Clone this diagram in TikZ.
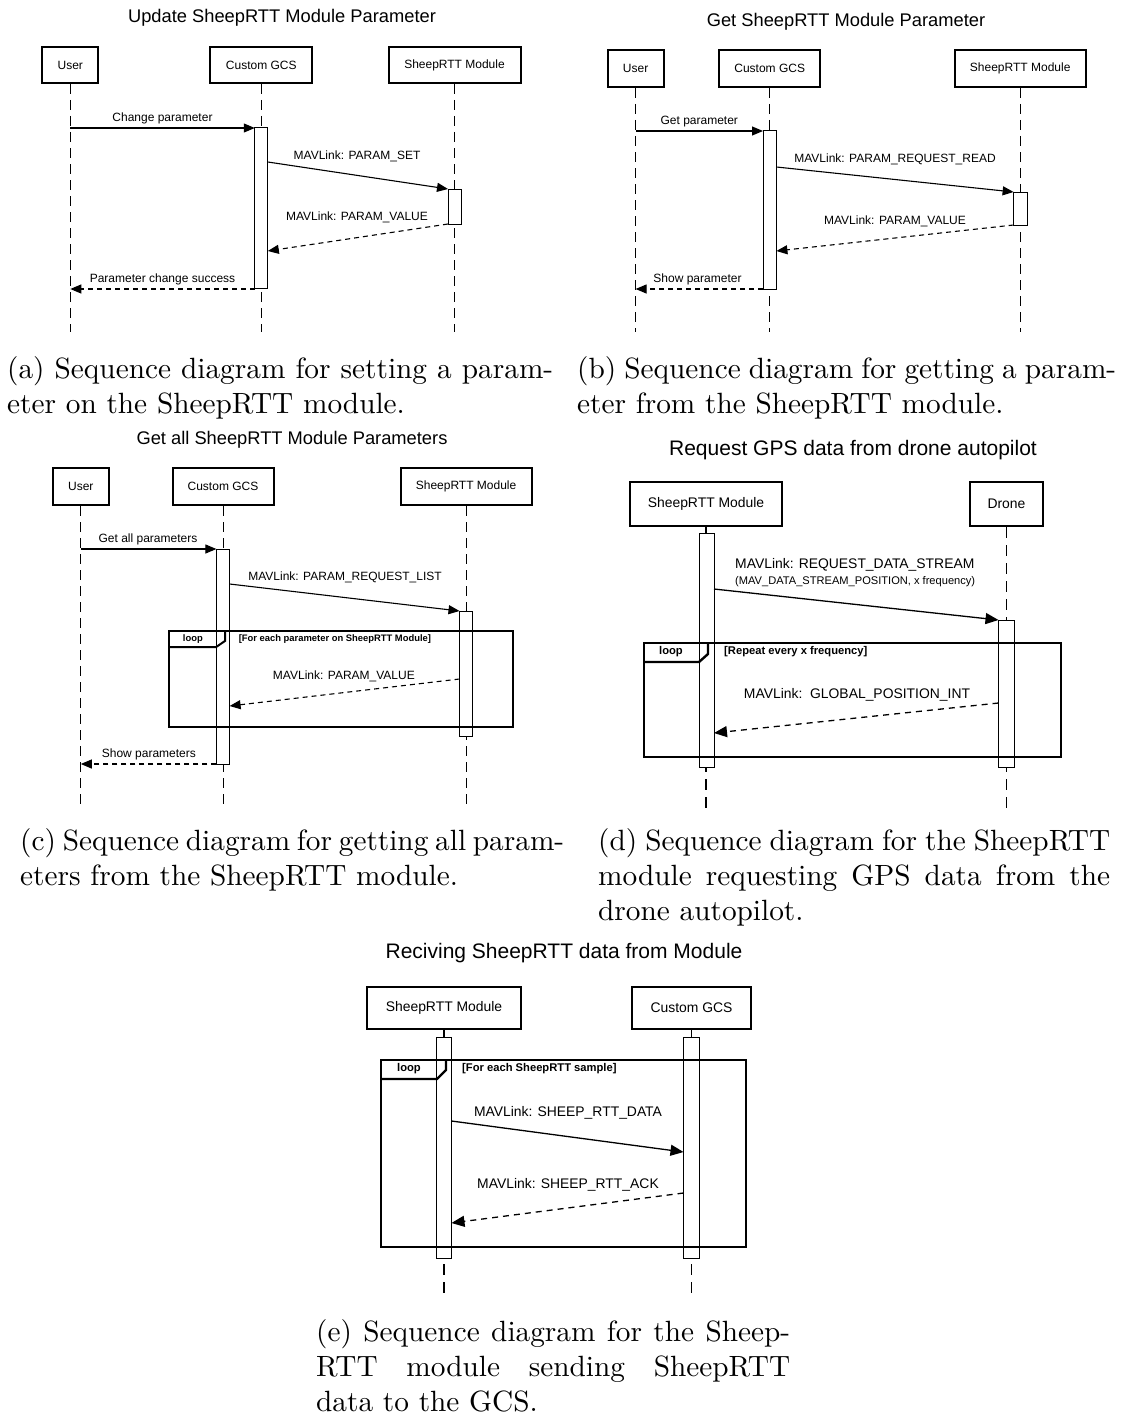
\documentclass[tikz,border=0pt]{standalone}
\usepackage{fontspec}
\newfontfamily\arialf{Liberation Sans}
\newfontfamily\capfont{lmroman10-regular.otf}
\usetikzlibrary{arrows.meta}
\newcommand\fTa{\arialf\fontsize{18.3}{22}\selectfont}
\newcommand\fLa{\arialf\fontsize{12}{14}\selectfont}
\newcommand\fBa{\arialf\bfseries\fontsize{9.4}{11}\selectfont}
\newcommand\fTd{\arialf\fontsize{21}{25}\selectfont}
\newcommand\fLd{\arialf\fontsize{13.9}{16}\selectfont}
\newcommand\fSd{\arialf\fontsize{11.1}{13}\selectfont}
\newcommand\fBd{\arialf\bfseries\fontsize{11.2}{13}\selectfont}
\newcommand\capbox[2]{\parbox[t]{#1}{\capfont\fontsize{29.3}{35}\selectfont\tolerance=9999\hyphenpenalty=10000 #2}}
\tikzset{
  actA/.style={draw, line width=2pt, inner sep=0pt, font=\fLa},
  actD/.style={draw, line width=2.4pt, inner sep=0pt, font=\fLd},
  lifeA/.style={line width=1pt, dash pattern=on 10pt off 6pt},
  lifeD/.style={line width=1.2pt, dash pattern=on 11pt off 7pt},
  actv/.style={draw, fill=white, line width=1pt},
  msgA/.style={line width=1.1pt, -{Triangle[length=11pt,width=9pt]}},
  retA/.style={msgA, dash pattern=on 5pt off 4pt},
  msgD/.style={line width=1.3pt, -{Triangle[length=13pt,width=11pt]}},
  retD/.style={msgD, dash pattern=on 6pt off 5pt},
  frameA/.style={line width=2pt},
  frameD/.style={line width=2.4pt},
  lbl/.style={inner sep=0pt},
  capnode/.style={inner sep=0pt, anchor=base west},
}
\begin{document}
\begin{tikzpicture}[x=1pt, y=-1pt]
\useasboundingbox (0,0) rectangle (1121,1418);
\fill[white] (0,0) rectangle (1121,1418);

% ================= (a) =================
\node[lbl, font=\fTa] (ta) at (282,18) {Update SheepRTT Module Parameter};
\node[actA, minimum width=56pt, minimum height=36pt] (ua) at (70.3,65) {User};
\node[actA, minimum width=102pt, minimum height=36pt] (ga) at (261.3,65) {Custom GCS};
\node[actA, minimum width=132pt, minimum height=36pt] (ma) at (454.5,65) {SheepRTT Module};
\coordinate (uaE) at (70.3,332);
\coordinate (gaE) at (261.3,332);
\coordinate (maE) at (454.5,332);
\draw[lifeA] (ua.south) -- (uaE);
\draw[lifeA] (ga.south) -- (gaE);
\draw[lifeA] (ma.south) -- (maE);
\draw[actv] (254.8,128) rectangle (267.8,288);
\draw[actv] (448,189) rectangle (461,224);
\coordinate (a1s) at (70.3,128); \coordinate (a1e) at (254.8,128);
\coordinate (a2s) at (267.8,162); \coordinate (a2e) at (448,189);
\coordinate (a3s) at (448,224); \coordinate (a3e) at (267.8,251);
\coordinate (a4s) at (254.8,289); \coordinate (a4e) at (70.3,289);
\draw[msgA] (a1s) -- (a1e);
\draw[msgA] (a2s) -- (a2e);
\draw[retA] (a3s) -- (a3e);
\draw[retA] (a4s) -- (a4e);
\node[lbl, font=\fLa] (la1) at (162.5,118) {Change parameter};
\node[lbl, font=\fLa] (la2) at (357,156) {MAVLink: PARAM\_SET};
\node[lbl, font=\fLa] (la3) at (357,217) {MAVLink: PARAM\_VALUE};
\node[lbl, font=\fLa] (la4) at (162.5,279) {Parameter change success};

% ================= (b) =================
\node[lbl, font=\fTa] (tb) at (846,22) {Get SheepRTT Module Parameter};
\node[actA, minimum width=56pt, minimum height=37pt] (ub) at (635.6,68.5) {User};
\node[actA, minimum width=101pt, minimum height=37pt] (gb) at (769.7,68.5) {Custom GCS};
\node[actA, minimum width=131pt, minimum height=37pt] (mb) at (1020.2,68.5) {SheepRTT Module};
\coordinate (ubE) at (635.6,332);
\coordinate (gbE) at (769.7,332);
\coordinate (mbE) at (1020.2,332);
\draw[lifeA] (ub.south) -- (ubE);
\draw[lifeA] (gb.south) -- (gbE);
\draw[lifeA] (mb.south) -- (mbE);
\draw[actv] (763,131) rectangle (776.4,289);
\draw[actv] (1013.6,192) rectangle (1027,225);
\coordinate (b1s) at (635.6,131); \coordinate (b1e) at (763,131);
\coordinate (b2s) at (776.4,167); \coordinate (b2e) at (1013.6,192);
\coordinate (b3s) at (1013.6,225); \coordinate (b3e) at (776.4,251);
\coordinate (b4s) at (763,289); \coordinate (b4e) at (635.6,289);
\draw[msgA] (b1s) -- (b1e);
\draw[msgA] (b2s) -- (b2e);
\draw[retA] (b3s) -- (b3e);
\draw[retA] (b4s) -- (b4e);
\node[lbl, font=\fLa] (lb1) at (699.3,122) {Get parameter};
\node[lbl, font=\fLa] (lb2) at (895,159) {MAVLink: PARAM\_REQUEST\_READ};
\node[lbl, font=\fLa] (lb3) at (895,221) {MAVLink: PARAM\_VALUE};
\node[lbl, font=\fLa] (lb4) at (697.5,279) {Show parameter};

% ================= (c) =================
\node[lbl, font=\fTa] (tc) at (292,440) {Get all SheepRTT Module Parameters};
\node[actA, minimum width=56pt, minimum height=37pt] (uc) at (80.8,486.5) {User};
\node[actA, minimum width=101pt, minimum height=37pt] (gc) at (223,486.5) {Custom GCS};
\node[actA, minimum width=131pt, minimum height=37pt] (mc) at (466.1,486.5) {SheepRTT Module};
\coordinate (ucE) at (80.8,810);
\coordinate (gcE) at (223,810);
\coordinate (mcE) at (466.1,810);
\draw[lifeA] (uc.south) -- (ucE);
\draw[lifeA] (gc.south) -- (gcE);
\draw[lifeA] (mc.south) -- (mcE);
\draw[actv] (216.4,549) rectangle (229.6,764);
\draw[actv] (459.5,611) rectangle (472.7,736);
\draw[frameA] (168.9,631) rectangle (513.2,727);
\draw[frameA] (168.9,647) -- (216.1,647) -- (225,641) -- (225,631);
\node[lbl, font=\fBa] (lpc) at (192.9,639) {loop};
\node[lbl, font=\fBa, anchor=west] (cdc) at (238.6,639) {[For each parameter on SheepRTT Module]};
\coordinate (c1s) at (80.8,549); \coordinate (c1e) at (216.4,549);
\coordinate (c2s) at (229.6,584); \coordinate (c2e) at (459.5,611);
\coordinate (c3s) at (459.5,679); \coordinate (c3e) at (229.6,706);
\coordinate (c4s) at (216.4,764); \coordinate (c4e) at (80.8,764);
\draw[msgA] (c1s) -- (c1e);
\draw[msgA] (c2s) -- (c2e);
\draw[retA] (c3s) -- (c3e);
\draw[retA] (c4s) -- (c4e);
\node[lbl, font=\fLa] (lc1) at (148,539) {Get all parameters};
\node[lbl, font=\fLa] (lc2) at (345,577) {MAVLink: PARAM\_REQUEST\_LIST};
\node[lbl, font=\fLa] (lc3) at (343.9,676) {MAVLink: PARAM\_VALUE};
\node[lbl, font=\fLa] (lc4) at (148.9,754) {Show parameters};

% ================= (d) =================
\node[lbl, font=\fTd] (td) at (853,450) {Request GPS data from drone autopilot};
\node[actD, minimum width=152pt, minimum height=44pt] (md) at (706,504) {SheepRTT Module};
\node[actD, minimum width=73pt, minimum height=44pt] (dd) at (1006.5,504) {Drone};
\coordinate (mdE) at (706,810);
\coordinate (ddE) at (1006.5,810);
\draw[lifeD] (md.south) -- (mdE);
\draw[lifeD] (dd.south) -- (ddE);
\draw[actv] (699,533) rectangle (714,767);
\draw[actv] (998.5,620) rectangle (1014.5,767);
\draw[frameD] (644,643) rectangle (1061,757);
\draw[frameD] (644,662) -- (699,662) -- (708,654) -- (708,643);
\node[lbl, font=\fBd] (lpd) at (671,652) {loop};
\node[lbl, font=\fBd, anchor=west] (cdd) at (724,652) {[Repeat every x frequency]};
\coordinate (d1s) at (714,589); \coordinate (d1e) at (998.5,620);
\coordinate (d2s) at (998.5,703); \coordinate (d2e) at (714,733);
\draw[msgD] (d1s) -- (d1e);
\draw[retD] (d2s) -- (d2e);
\node[lbl, font=\fLd, anchor=west] (ld1) at (735,565) {MAVLink: REQUEST\_DATA\_STREAM};
\node[lbl, font=\fSd, anchor=west] (ld1b) at (735,582) {(MAV\_DATA\_STREAM\_POSITION, x frequency)};
\node[lbl, font=\fLd] (ld2) at (857,695) {MAVLink:\ \ GLOBAL\_POSITION\_INT};

% ================= (e) =================
\node[lbl, font=\fTd] (te) at (564,953) {Reciving SheepRTT data from Module};
\node[actD, minimum width=154pt, minimum height=42pt] (me) at (444,1008) {SheepRTT Module};
\node[actD, minimum width=119pt, minimum height=42pt] (ge) at (691.5,1008) {Custom GCS};
\coordinate (meE) at (444,1300);
\coordinate (geE) at (691.5,1300);
\draw[lifeD] (me.south) -- (meE);
\draw[lifeD] (ge.south) -- (geE);
\draw[actv] (436.5,1037) rectangle (451.5,1258);
\draw[actv] (683.5,1037) rectangle (699.5,1258);
\draw[frameD] (381,1060) rectangle (746,1247);
\draw[frameD] (381,1079) -- (437,1079) -- (446,1070) -- (446,1060);
\node[lbl, font=\fBd] (lpe) at (409,1069) {loop};
\node[lbl, font=\fBd, anchor=west] (cde) at (462,1069) {[For each SheepRTT sample]};
\coordinate (e1s) at (451.5,1121); \coordinate (e1e) at (683.5,1152);
\coordinate (e2s) at (683.5,1193); \coordinate (e2e) at (451.5,1223);
\draw[msgD] (e1s) -- (e1e);
\draw[retD] (e2s) -- (e2e);
\node[lbl, font=\fLd] (le1) at (568,1113) {MAVLink: SHEEP\_RTT\_DATA};
\node[lbl, font=\fLd] (le2) at (568,1185) {MAVLink: SHEEP\_RTT\_ACK};

% ================= captions =================
\node[capnode] (capa) at (7,378) {\capbox{546pt}{(a) Sequence diagram for setting a param-\linebreak eter on the SheepRTT module.}};
\node[capnode] (capb) at (577,378) {\capbox{539pt}{(b) Sequence diagram for getting a param-\linebreak eter from the SheepRTT module.}};
\node[capnode] (capc) at (20,850) {\capbox{544pt}{(c) Sequence diagram for getting all param-\linebreak eters from the SheepRTT module.}};
\node[capnode] (capd) at (598,850) {\capbox{512pt}{(d) Sequence diagram for the SheepRTT\linebreak module requesting GPS data from the\linebreak drone autopilot.}};
\node[capnode] (cape) at (316,1341) {\capbox{474pt}{(e) Sequence diagram for the Sheep-\linebreak RTT module sending SheepRTT\linebreak data to the GCS.}};
\end{tikzpicture}
\end{document}
